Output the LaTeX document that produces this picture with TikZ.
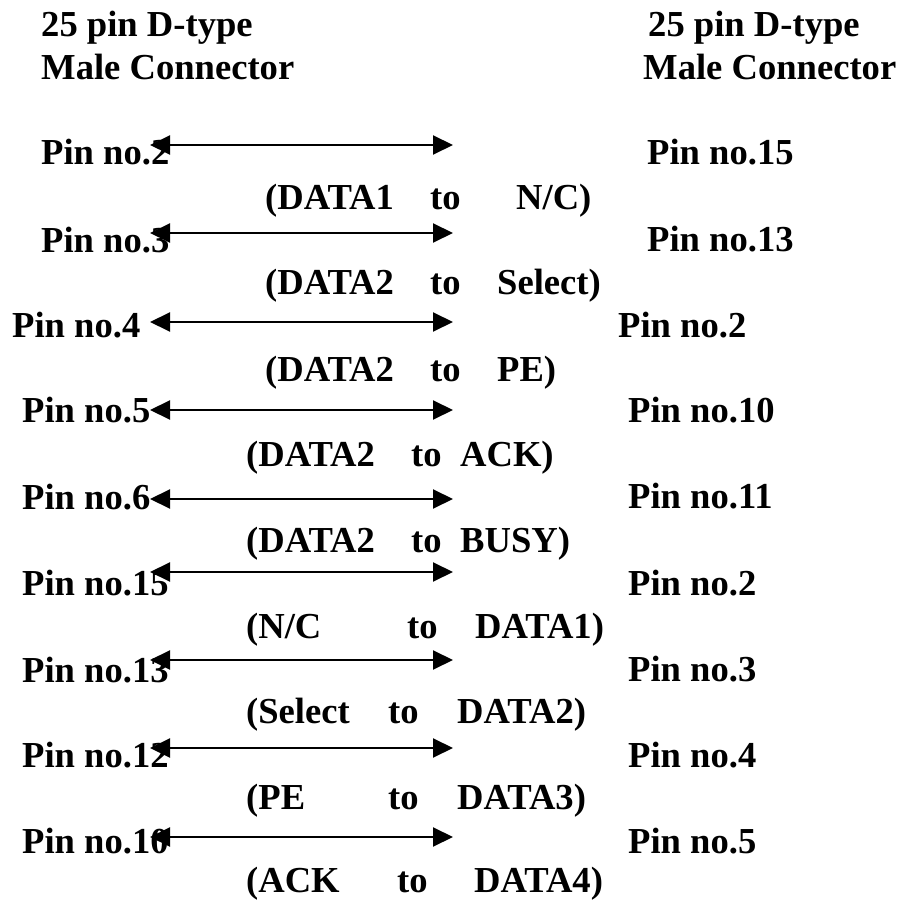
\documentclass[tikz,border=0pt]{standalone}
\usepackage{fontspec}
\setmainfont{Liberation Serif}
\usetikzlibrary{arrows.meta}
\begin{document}
\begin{tikzpicture}[x=1pt,y=-1pt,
  lbl/.style={anchor=base west,inner sep=0pt,font=\bfseries\fontsize{36.6}{40}\selectfont},
  conn/.style={line width=2pt,{Triangle[length=20pt,width=19pt]}-{Triangle[length=20pt,width=19pt]}}]
\useasboundingbox (0,0) rectangle (906,901);
% headers
\node[lbl] (hl1) at (41,37) {25 pin D-type};
\node[lbl] (hl2) at (41,80) {Male Connector};
\node[lbl] (hr1) at (648,37) {25 pin D-type};
\node[lbl] (hr2) at (643,80) {Male Connector};
% left pins
\node[lbl] (lp1) at (41,165) {Pin no.2};
\node[lbl] (lp2) at (41,253) {Pin no.3};
\node[lbl] (lp3) at (12,338) {Pin no.4};
\node[lbl] (lp4) at (22,423) {Pin no.5};
\node[lbl] (lp5) at (22,510) {Pin no.6};
\node[lbl] (lp6) at (22,595) {Pin no.15};
\node[lbl] (lp7) at (22,682) {Pin no.13};
\node[lbl] (lp8) at (22,767) {Pin no.12};
\node[lbl] (lp9) at (22,853) {Pin no.10};
% right pins
\node[lbl] (rp1) at (647,165) {Pin no.15};
\node[lbl] (rp2) at (647,252) {Pin no.13};
\node[lbl] (rp3) at (618,338) {Pin no.2};
\node[lbl] (rp4) at (628,423) {Pin no.10};
\node[lbl] (rp5) at (628,509) {Pin no.11};
\node[lbl] (rp6) at (628,595) {Pin no.2};
\node[lbl] (rp7) at (628,681) {Pin no.3};
\node[lbl] (rp8) at (628,767) {Pin no.4};
\node[lbl] (rp9) at (628,853) {Pin no.5};
% middle labels
\node[lbl] (m1) at (265,210) {\makebox[165pt][l]{(DATA1}\makebox[86pt][l]{to}N/C)};
\node[lbl] (m2) at (265,295) {\makebox[165pt][l]{(DATA2}\makebox[67pt][l]{to}Select)};
\node[lbl] (m3) at (265,382) {\makebox[165pt][l]{(DATA2}\makebox[67pt][l]{to}PE)};
\node[lbl] (m4) at (246,467) {\makebox[165pt][l]{(DATA2}\makebox[49pt][l]{to}ACK)};
\node[lbl] (m5) at (246,552) {\makebox[165pt][l]{(DATA2}\makebox[49pt][l]{to}BUSY)};
\node[lbl] (m6) at (246,638) {\makebox[161pt][l]{(N/C}\makebox[68pt][l]{to}DATA1)};
\node[lbl] (m7) at (246,723) {\makebox[142pt][l]{(Select}\makebox[69pt][l]{to}DATA2)};
\node[lbl] (m8) at (246,809) {\makebox[142pt][l]{(PE}\makebox[69pt][l]{to}DATA3)};
\node[lbl] (m9) at (246,892) {\makebox[151pt][l]{(ACK}\makebox[77pt][l]{to}DATA4)};
% arrows
\foreach \i/\y in {1/145,2/233,3/322,4/410,5/499,6/572,7/660,8/748,9/837}{
  \coordinate (a\i) at (150,\y);
  \coordinate (b\i) at (453,\y);
  \draw[conn] (a\i) -- (b\i);
}
\end{tikzpicture}
\end{document}
